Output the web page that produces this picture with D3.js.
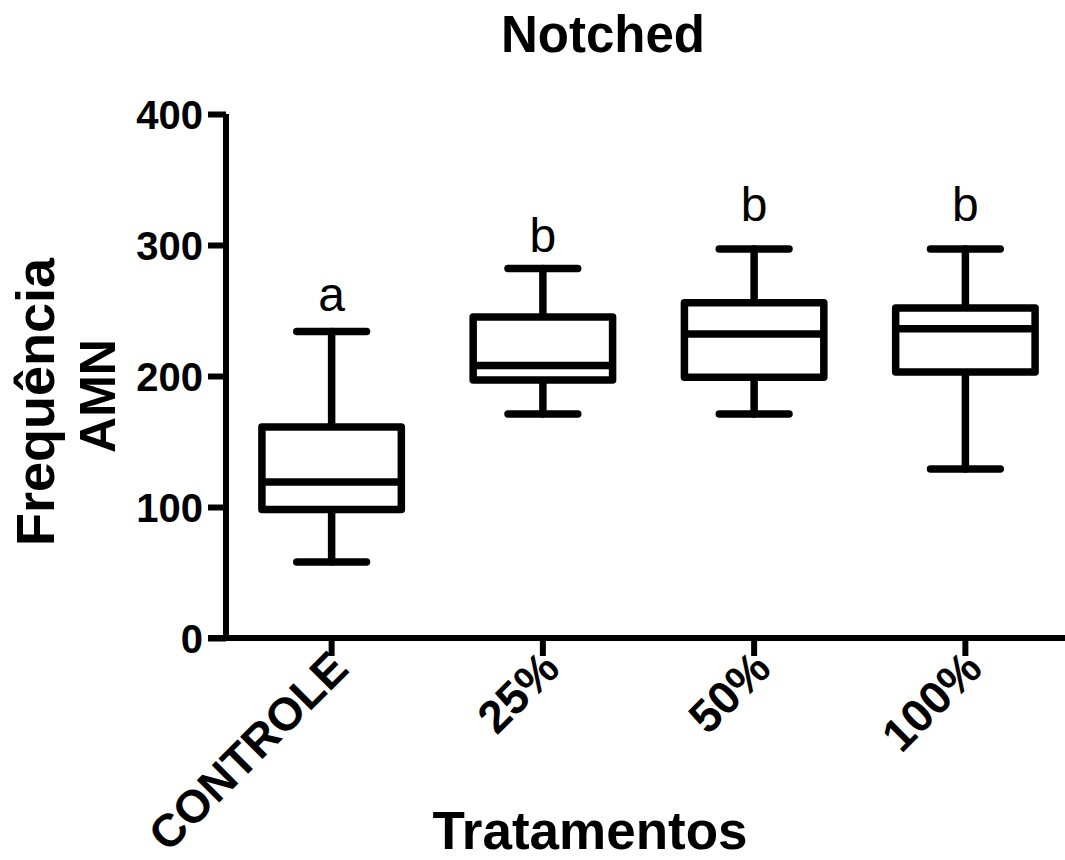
<!DOCTYPE html>
<html lang="en">
	<head>
		<meta charset="utf-8">
		<title>Notched box plot</title>
		<script src="https://cdn.jsdelivr.net/npm/d3@7"></script>
		<style type="text/css">
		body{
			margin: 0;
			background-color: #ffffff;
		}
		svg{
			display: block;
			font-family: "Liberation Sans", Arial, sans-serif;
		}
		</style>
	</head>
	<body>
		<div id="chart"></div>
		<script type="text/javascript">

			// data
			var categories = ["CONTROLE", "25%", "50%", "100%"];
			var whiskerLow = [58, 171, 171, 129];
			var q1 = [98, 197, 199, 203];
			var median = [119, 208, 232, 236];
			var q3 = [161, 245, 256, 252];
			var whiskerHigh = [234, 282, 297, 297];
			var letters = ["a", "b", "b", "b"];
			var letterAt = [250, 295, 318, 318];
			var yTicks = [0, 100, 200, 300, 400];

			var w = 1065;
			var h = 860;

			var svg = d3.select("#chart")
						.append("svg")
						.attr("width", w)
						.attr("height", h);

			var x = d3.scaleBand()
					  .domain(categories)
					  .range([226, 1071])
					  .padding(0);

			var y = d3.scaleLinear()
					  .domain([0, 400])
					  .range([638, 114]);

			var boxW = x.bandwidth() * 0.66;
			var capW = boxW * 0.5;

			var rows = categories.map(function(c, i) {
				return {cat: c, lo: whiskerLow[i], q1: q1[i], med: median[i], q3: q3[i], hi: whiskerHigh[i], letter: letters[i], lp: letterAt[i]};
			});

			//y axis
			var yAxis = svg.append("g")
						   .attr("transform", "translate(226,0)")
						   .call(d3.axisLeft(y).tickValues(yTicks).tickSize(18).tickPadding(5));
			yAxis.select(".domain").attr("stroke-width", 6).attr("d", "M0," + y(400) + "V" + y(0));
			yAxis.selectAll(".tick line").attr("stroke-width", 6);
			yAxis.selectAll(".tick text")
				 .attr("font-size", "40px")
				 .attr("font-weight", "bold")
				 .attr("font-family", "'Liberation Sans', Arial, sans-serif")
				 .attr("dy", "0.36em")
				 .attr("fill", "#000");

			//x axis
			var xAxis = svg.append("g")
						   .attr("transform", "translate(0," + y(0) + ")")
						   .call(d3.axisBottom(x).tickSize(18).tickSizeOuter(0));
			xAxis.select(".domain").attr("stroke-width", 6).attr("d", "M208,0H1071");
			xAxis.selectAll(".tick line").attr("stroke-width", 6);
			xAxis.selectAll(".tick text")
				 .attr("font-size", "46px")
				 .attr("font-weight", "bold")
				 .attr("font-family", "'Liberation Sans', Arial, sans-serif")
				 .attr("fill", "#000")
				 .attr("text-anchor", "end")
				 .attr("y", 0)
				 .attr("dy", 0)
				 .attr("transform", "translate(19,33) rotate(-45)");

			//boxes
			var g = svg.selectAll(".box")
					   .data(rows)
					   .enter()
					   .append("g")
					   .attr("class", "box")
					   .attr("transform", function(d) { return "translate(" + (x(d.cat) + x.bandwidth() / 2) + ",0)"; })
					   .attr("stroke", "#000")
					   .attr("stroke-width", 7.5)
					   .attr("stroke-linecap", "round")
					   .attr("stroke-linejoin", "round")
					   .attr("fill", "none");

			// whiskers
			g.append("line")
			 .attr("x1", 0).attr("x2", 0)
			 .attr("y1", function(d) { return y(d.hi); })
			 .attr("y2", function(d) { return y(d.q3); });
			g.append("line")
			 .attr("x1", 0).attr("x2", 0)
			 .attr("y1", function(d) { return y(d.q1); })
			 .attr("y2", function(d) { return y(d.lo); });
			g.append("line")
			 .attr("x1", -capW / 2).attr("x2", capW / 2)
			 .attr("y1", function(d) { return y(d.hi); })
			 .attr("y2", function(d) { return y(d.hi); });
			g.append("line")
			 .attr("x1", -capW / 2).attr("x2", capW / 2)
			 .attr("y1", function(d) { return y(d.lo); })
			 .attr("y2", function(d) { return y(d.lo); });

			// box and median
			g.append("rect")
			 .attr("x", -boxW / 2)
			 .attr("width", boxW)
			 .attr("y", function(d) { return y(d.q3); })
			 .attr("height", function(d) { return y(d.q1) - y(d.q3); })
			 .attr("fill", "#fff");
			g.append("line")
			 .attr("stroke-linecap", "butt")
			 .attr("x1", -boxW / 2).attr("x2", boxW / 2)
			 .attr("y1", function(d) { return y(d.med); })
			 .attr("y2", function(d) { return y(d.med); });

			//letters
			svg.selectAll(".letter")
			   .data(rows)
			   .enter()
			   .append("text")
			   .attr("class", "letter")
			   .attr("x", function(d) { return x(d.cat) + x.bandwidth() / 2; })
			   .attr("y", function(d) { return y(d.lp); })
			   .attr("text-anchor", "middle")
			   .attr("font-size", "48px")
			   .text(function(d) { return d.letter; });

			//titles
			svg.append("text")
			   .attr("x", 603)
			   .attr("y", 52)
			   .attr("text-anchor", "middle")
			   .attr("font-size", "51px")
			   .attr("font-weight", "bold")
			   .text("Notched");

			svg.append("text")
			   .attr("x", 590)
			   .attr("y", 849)
			   .attr("text-anchor", "middle")
			   .attr("font-size", "53px")
			   .attr("font-weight", "bold")
			   .text("Tratamentos");

			var yl = svg.append("text")
						.attr("transform", "translate(54,402) rotate(-90)")
						.attr("text-anchor", "middle")
						.attr("font-size", "54px")
						.attr("font-weight", "bold");
			yl.append("tspan").attr("x", 0).attr("y", 0).text("Frequência");
			yl.append("tspan").attr("x", 6).attr("y", 61).attr("font-size", "50px").text("AMN");

		</script>
	</body>
</html>
